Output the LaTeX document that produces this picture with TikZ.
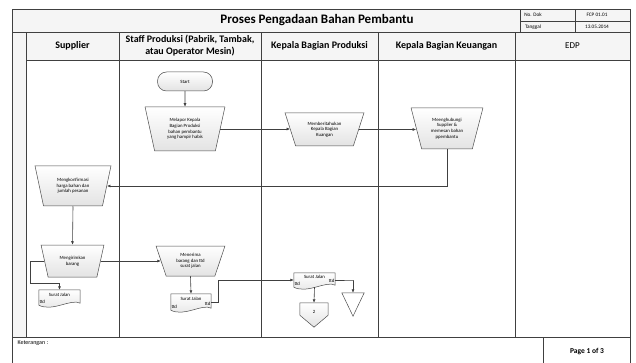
\documentclass[tikz,border=0pt]{standalone}
\usepackage{fontspec}
\setmainfont{Carlito}
\usepackage{tikz}
\usetikzlibrary{positioning,shapes,arrows.meta,calc}

\newcommand{\flowfont}{\fontsize{4.8}{5.6}\selectfont}

\begin{document}
\begin{tikzpicture}[
  x=1pt, y=-1pt,
  frame/.style={draw=black!75, line width=0.9pt},
  cell/.style={frame, fill=gray!8},
  head/.style={font=\fontsize{10}{11.5}\selectfont\bfseries, align=center},
  info/.style={font=\fontsize{5.2}{6}\selectfont},
  shade/.style={draw=black!70, line width=0.5pt, top color=white, bottom color=gray!22},
  proc/.style={shade, trapezium, trapezium stretches=true, shape border rotate=180,
    inner sep=0pt, align=center, font=\flowfont},
  docbox/.style={inner sep=0pt, minimum width=41, minimum height=15, font=\flowfont},
  small/.style={inner sep=0.5pt, font=\flowfont},
  flow/.style={draw=black!75, line width=0.6pt, -{Latex[length=3.5pt,width=3pt]}},
  line/.style={draw=black!75, line width=0.6pt}
]
  % Page
  \fill[white] (0,0) rectangle (636,363);
  \useasboundingbox (0,0) rectangle (636,363);

  % Title row
  \draw[cell] (12,9) rectangle (520,32);
  \draw[cell] (520,9) rectangle (575,21);
  \draw[cell] (575,9) rectangle (630,21);
  \draw[cell] (520,21) rectangle (575,32);
  \draw[cell] (575,21) rectangle (630,32);
  \node[font=\fontsize{13}{15}\selectfont\bfseries] (title) at (317,20.5) {Proses Pengadaan Bahan Pembantu};
  \node[info] (nodok) at (533,15) {No. Dok};
  \node[info] (fcp) at (597,15) {FCP 01.01};
  \node[info] (tgl) at (533,27) {Tanggal};
  \node[info] (date) at (597,27) {13.05.2014};

  % Lanes
  \draw[cell] (12,32) rectangle (26,337);
  \foreach \a/\b in {26/119,119/261,261/378,378/515,515/630} {
    \draw[cell] (\a,32) rectangle (\b,60);
    \draw[frame] (\a,60) rectangle (\b,337);
  }
  \node[head] (h1) at (72.5,46) {Supplier};
  \node[head] (h2) at (190,45.5) {Staff Produksi (Pabrik, Tambak,\\atau Operator Mesin)};
  \node[head] (h3) at (319.5,46) {Kepala Bagian Produksi};
  \node[head] (h4) at (446.5,46) {Kepala Bagian Keuangan};
  \node[head, font=\fontsize{9}{10}\selectfont] (h5) at (572.5,46) {EDP};

  % Footer
  \draw[frame] (12,337) rectangle (630,366);
  \draw[frame] (543,337) -- (543,366);
  \node[font=\fontsize{6}{7}\selectfont, anchor=west] (ket) at (14,343) {Keterangan :};
  \node[font=\fontsize{7.5}{9}\selectfont\bfseries] (page) at (587,352) {Page 1 of 3};

  % Shapes
  \node[shade, rounded corners=9pt, minimum width=55, minimum height=19, font=\flowfont] (start) at (185,81.5) {Start};
  \node[proc, trapezium angle=75, minimum width=80, minimum height=44] (melapor) at (185,129)
    {Melapor Kepala\\Bagian Produksi\\bahan pembantu\\yang hampir habis};
  \node[proc, trapezium angle=68, minimum width=79, minimum height=33] (memberi) at (324.5,129.5)
    {Memberitahukan\\Kepala Bagian\\Kuangan};
  \node[proc, trapezium angle=72, minimum width=72, minimum height=41] (menghub) at (447,128.5)
    {Meenghubungi\\Supplier \&\\memesan bahan\\ppembantu};
  \node[proc, trapezium angle=73, minimum width=76, minimum height=40] (mengkon) at (73,186)
    {Mengkonfirmasi\\harga bahan dan\\jumlah pesanan};
  \node[proc, trapezium angle=69, minimum width=63, minimum height=32] (mengirim) at (72.5,261)
    {Mengirimkan\\barang};
  \node[proc, trapezium angle=69, minimum width=69, minimum height=30] (menerima) at (190.5,261)
    {Menerima\\barang dan ttd\\surat jalan};

  % Documents
  \node[docbox] (doc1) at (59.5,297.5) {};
  \node[docbox, minimum width=40, minimum height=16] (doc2) at (191,302) {};
  \node[docbox, minimum height=14] (doc3) at (314.5,280) {};
  \foreach \d in {doc1,doc2,doc3}
    \draw[shade] (\d.north west) -- (\d.north east) -- ([yshift=2pt]\d.south east)
      .. controls ([xshift=-9pt,yshift=7pt]\d.south east) and ([xshift=14pt,yshift=-7pt]\d.south west)
      .. (\d.south west) -- cycle;
  \node[small, anchor=north] (sj1) at ([yshift=-3pt]doc1.north) {Surat Jalan};
  \node[small, anchor=south west] (t1) at ([yshift=1pt]doc1.south west) {ttd};
  \node[small, anchor=north] (sj2) at ([yshift=-3pt]doc2.north) {Surat Jalan};
  \node[small, anchor=north east] (t2a) at ([yshift=-8pt]doc2.north east) {ttd};
  \node[small, anchor=south west] (t2b) at ([yshift=0.5pt]doc2.south west) {ttd};
  \node[small, anchor=north] (sj3) at ([yshift=-2pt]doc3.north) {Surat Jalan};
  \node[small, anchor=north east] (t3a) at ([yshift=-6pt]doc3.north east) {ttd};
  \node[small, anchor=south west] (t3b) at ([yshift=0.5pt]doc3.south west) {ttd};

  % Off-page connector and merge
  \node[minimum width=28, minimum height=24, inner sep=0pt] (off) at (314,315) {};
  \draw[shade] (off.north west) -- (off.north east) -- ([yshift=12pt]off.south east)
    -- (off.south) -- ([yshift=12pt]off.south west) -- cycle;
  \node[font=\flowfont] (two) at ([yshift=3pt]off.center) {2};
  \node[minimum width=22, minimum height=23, inner sep=0pt] (tri) at (353,304.5) {};
  \draw[shade, top color=white, bottom color=white] (tri.north west) -- (tri.north east) -- (tri.south) -- cycle;

  % Connectors
  \draw[flow] (start) -- (melapor);
  \draw[flow] (melapor.east) -- (melapor.east -| memberi.west);
  \draw[flow] (memberi.east) -- (memberi.east -| menghub.west);
  \draw[flow] (menghub.south) |- (mengkon.east);
  \draw[flow] (mengkon.south) -- (mengirim.north);
  \draw[flow] (mengirim.east) -- (mengirim.east -| menerima.west);
  \draw[flow] (mengirim.west) -- ++(-14,0) |- ([yshift=7pt]doc1.north) -- (doc1.north);
  \draw[flow] (menerima.south) -- (doc2.north);
  \draw[flow] (doc2.east) -- ++(7,0) |- (doc3.west);
  \draw[flow] (doc3.south) -- (off.north);
  \draw[flow] (doc3.east) -- ++(18,0) -| (tri.north);
\end{tikzpicture}
\end{document}
